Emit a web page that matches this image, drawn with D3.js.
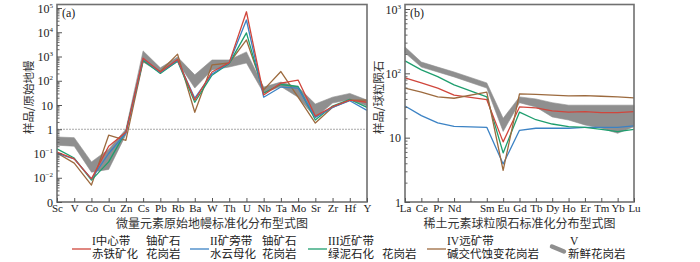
<!DOCTYPE html>
<html>
<head>
<meta charset="utf-8">
<script src="https://cdn.jsdelivr.net/npm/d3@7"></script>
<style>
  body { margin: 0; background: #fff; }
  svg text { font-family: "Liberation Serif", "Noto Sans CJK SC", serif; fill: #222; }
  .cjk { font-family: "Noto Sans CJK SC", sans-serif; fill: #333; }
</style>
</head>
<body>
<div id="chart"></div>
<script>
// ---- trace elements, primitive mantle normalised (panel a)
const traceElements = ['Sc','V','Co','Cu','Zn','Cs','Pb','Rb','Ba','W','Th','U','Nb','Ta','Mo','Sr','Zr','Hf','Y'];
const traceZoneI   = [0.115, 0.06, 0.009, 0.2, 0.75, 850, 230, 750, 16, 230, 560, 70000, 26, 80, 107, 3.5, 8.5, 16, 13];
const traceZoneII  = [0.1, 0.06, 0.009, 0.1, 0.7, 800, 220, 700, 19, 190, 540, 32000, 21, 55, 50, 3.1, 8, 15, 6];
const traceZoneIII = [0.155, 0.065, 0.008, 0.045, 0.8, 700, 200, 650, 13, 170, 520, 9400, 31, 70, 58, 2.4, 9, 17, 8];
const traceZoneIV  = [0.105, 0.04, 0.005, 0.57, 0.35, 650, 240, 1250, 5, 450, 540, 4800, 42, 240, 21, 1.8, 8, 16, 16];
const traceFreshLow  = [0.22, 0.2, 0.017, 0.022, 0.6, 600, 210, 600, 50, 280, 370, 540, 31, 58, 21, 3, 12, 17, 9];
const traceFreshHigh = [0.48, 0.45, 0.045, 0.15, 1.0, 1700, 340, 950, 175, 720, 720, 1550, 55, 88, 55, 11, 21, 30, 16];
const traceTicks = [1e-3, 1e-2, 1e-1, 1, 10, 1e2, 1e3, 1e4, 1e5];

// ---- REE, chondrite normalised (panel b); Pm is not analysed
const reeElements = ['La','Ce','Pr','Nd','Pm','Sm','Eu','Gd','Tb','Dy','Ho','Er','Tm','Yb','Lu'];
const reeLabels   = ['La','Ce','Pr','Nd','','Sm','Eu','Gd','Tb','Dy','Ho','Er','Tm','Yb','Lu'];
const reeZoneI   = [85, 71, 59, 46, null, 39, 8.6, 30, 29, 26, 25, 25.4, 24.5, 24.5, 25.4];
const reeZoneII  = [31, 22, 17, 15, null, 14.5, 3.9, 13, 14, 14, 14, 14.5, 14.5, 14.5, 15.2];
const reeZoneIII = [156, 113, 89, 66, null, 43, 5.8, 25, 19, 16.3, 14.8, 14.5, 13.5, 12.4, 13.5];
const reeZoneIV  = [59, 51, 43, 41, null, 51, 3.1, 48, 47, 46, 44.5, 45, 44, 43, 41.5];
const reeFreshLow  = [208, 125, 105, 88, null, 59, 12.5, 35, 30, 21, 18.8, 15.8, 14, 11.7, 14.8];
const reeFreshHigh = [257, 150, 125, 105, null, 71, 20, 43, 40, 35, 32, 32, 32, 32, 32];
const reeTicks = [1, 10, 100, 1000];

const zoneColors = {I: '#d0463c', II: '#3b82c4', III: '#1e9e6e', IV: '#9c6a3e'};
const bandColor = '#8f8f8f';

const svg = d3.select('#chart').append('svg')
    .attr('width', 700)
    .attr('height', 262);

class SpiderPlot {
  constructor(_config, _data) {
    this.config = {
      left: _config.left,
      right: _config.right,
      top: _config.top || 4.5,
      bottom: _config.bottom || 202,
      yTop: _config.yTop,
      domain: _config.domain,
      ticks: _config.ticks,
      tag: _config.tag,
      yTitle: _config.yTitle,
      yTitleX: _config.yTitleX,
      xTitle: _config.xTitle,
      labelFmt: _config.labelFmt,
      refLine: _config.refLine || null
    };
    this.data = _data;
    this.initVis();
  }

  initVis() {
    let vis = this;
    const c = vis.config;

    vis.x = d3.scalePoint().domain(vis.data.categories).range([c.left, c.right]);
    vis.y = d3.scaleLog().domain(c.domain).range([c.bottom, c.yTop]);

    vis.g = svg.append('g');

    // fresh granite field
    const bandPts = vis.data.categories.map((el, i) => ({el, lo: vis.data.low[i], hi: vis.data.high[i]}))
        .filter(d => d.lo != null);
    vis.g.append('path')
        .datum(bandPts)
        .attr('fill', bandColor)
        .attr('stroke', bandColor)
        .attr('stroke-width', 0.6)
        .attr('d', d3.area().x(d => vis.x(d.el)).y0(d => vis.y(d.lo)).y1(d => vis.y(d.hi)));

    if (c.refLine) {
      vis.g.append('line')
          .attr('x1', c.left).attr('x2', c.right)
          .attr('y1', vis.y(c.refLine)).attr('y2', vis.y(c.refLine))
          .attr('stroke', '#a8a8a8')
          .attr('stroke-width', 1)
          .attr('stroke-dasharray', '2,1');
    }

    const line = d3.line().x(d => vis.x(d.el)).y(d => vis.y(d.v));
    vis.g.selectAll('.zone')
        .data(vis.data.series)
      .join('path')
        .attr('class', 'zone')
        .attr('fill', 'none')
        .attr('stroke', d => zoneColors[d.key])
        .attr('stroke-width', 1.3)
        .attr('stroke-linejoin', 'round')
        .attr('d', d => line(vis.data.categories.map((el, i) => ({el, v: d.values[i]})).filter(p => p.v != null)));

    // frame
    vis.g.append('rect')
        .attr('x', c.left).attr('y', c.top)
        .attr('width', c.right - c.left).attr('height', c.bottom - c.top)
        .attr('fill', 'none')
        .attr('stroke', '#707070')
        .attr('stroke-width', 1.6);

    // y axis, ticks pointing inward
    const minor = [];
    for (let e = Math.log10(c.domain[0]); e < Math.log10(c.domain[1]); e++) {
      for (let m = 2; m <= 9; m++) minor.push(m * Math.pow(10, e));
    }
    vis.g.append('g')
        .attr('transform', `translate(${c.left},0)`)
        .call(d3.axisLeft(vis.y).tickValues(minor).tickSize(-2.5).tickFormat(() => ''))
        .call(g => g.select('.domain').remove())
        .call(g => g.selectAll('line').attr('stroke', '#666'));

    const yAxisG = vis.g.append('g')
        .attr('transform', `translate(${c.left},0)`)
        .call(d3.axisLeft(vis.y).tickValues(c.ticks).tickSize(-5).tickFormat(() => ''))
        .call(g => g.select('.domain').remove())
        .call(g => g.selectAll('line').attr('stroke', '#555'));

    yAxisG.selectAll('.tick text').remove();
    yAxisG.selectAll('.tick').append('text')
        .attr('x', -4)
        .attr('dy', '0.35em')
        .attr('text-anchor', 'end')
        .attr('font-size', 12)
        .each(function(d) {
          const lab = c.labelFmt(d);
          const t = d3.select(this);
          t.append('tspan').text(lab.base);
          if (lab.exp) {
            t.append('tspan').attr('dy', -5).attr('font-size', 7).text(lab.exp);
          }
        });

    // x axis
    vis.g.append('g')
        .attr('transform', `translate(0,${c.bottom})`)
        .call(d3.axisBottom(vis.x).tickSize(-4).tickPadding(2).tickFormat((d, i) => vis.data.labels[i]))
        .call(g => g.select('.domain').remove())
        .call(g => g.selectAll('line').attr('stroke', '#555'))
        .call(g => g.selectAll('text').attr('font-size', 11).attr('fill', '#222'));

    vis.g.append('text')
        .attr('x', c.left + 5).attr('y', 17)
        .attr('font-size', 12)
        .text(c.tag);

    vis.g.append('text')
        .attr('class', 'cjk')
        .attr('transform', `translate(${c.yTitleX},${(c.top + c.bottom) / 2 - 6}) rotate(-90)`)
        .attr('text-anchor', 'middle')
        .attr('font-size', 11.5)
        .text(c.yTitle);

    vis.g.append('text')
        .attr('class', 'cjk')
        .attr('x', c.xTitleX || (c.left + c.right) / 2)
        .attr('y', 228)
        .attr('text-anchor', 'middle')
        .attr('font-size', 12)
        .text(c.xTitle);
  }
}

const sup = s => s.replace('-', '\u2212');

new SpiderPlot({
  left: 57, right: 367, yTop: 8,
  domain: [1e-3, 1e5], ticks: traceTicks,
  tag: '(a)', yTitle: '样品/原始地幔', yTitleX: 33,
  xTitle: '微量元素原始地幔标准化分布型式图',
  refLine: 1,
  labelFmt: d => {
    const e = Math.round(Math.log10(d));
    if (e === -3) return {base: '0'};
    if (e === 0) return {base: '1'};
    if (e === 1) return {base: '10'};
    return {base: '10', exp: sup(String(e))};
  }
}, {
  categories: traceElements, labels: traceElements,
  low: traceFreshLow, high: traceFreshHigh,
  series: [
    {key: 'IV', values: traceZoneIV},
    {key: 'III', values: traceZoneIII},
    {key: 'II', values: traceZoneII},
    {key: 'I', values: traceZoneI}
  ]
});

new SpiderPlot({
  left: 405, right: 634, yTop: 9,
  domain: [1, 1000], ticks: reeTicks,
  tag: '(b)', yTitle: '样品/球粒陨石', yTitleX: 383,
  xTitle: '稀土元素球粒陨石标准化分布型式图',
  labelFmt: d => {
    const e = Math.round(Math.log10(d));
    if (e === 0) return {base: '1'};
    if (e === 1) return {base: '10'};
    return {base: '10', exp: String(e)};
  }
}, {
  categories: reeElements, labels: reeLabels,
  low: reeFreshLow, high: reeFreshHigh,
  series: [
    {key: 'II', values: reeZoneII},
    {key: 'III', values: reeZoneIII},
    {key: 'I', values: reeZoneI},
    {key: 'IV', values: reeZoneIV}
  ]
});

// ---- legend
const legendItems = [
  {key: 'I', x: 72, l1: ['I中心带', '铀矿石'], l2: ['赤铁矿化', '花岗岩'], gap: 54},
  {key: 'II', x: 190, l1: ['II矿旁带', '铀矿石'], l2: ['水云母化', '花岗岩'], gap: 52},
  {key: 'III', x: 308, l1: ['III近矿带'], l2: ['绿泥石化', '花岗岩'], gap: 54},
  {key: 'IV', x: 427, l1: ['IV远矿带'], l2: ['碱交代蚀变花岗岩'], gap: 0},
  {key: 'V', x: 550, l1: ['V'], l2: ['新鲜花岗岩'], gap: 0}
];

const legend = svg.append('g').attr('class', 'legend');
legendItems.forEach(it => {
  const g = legend.append('g');
  let tx;
  if (it.key === 'V') {
    g.append('line')
        .attr('x1', it.x + 2).attr('y1', 246.5).attr('x2', it.x + 14).attr('y2', 251.5)
        .attr('stroke', bandColor).attr('stroke-width', 4.5).attr('stroke-linecap', 'round');
    tx = it.x + 18;
  } else {
    g.append('line')
        .attr('x1', it.x).attr('x2', it.x + 19).attr('y1', 249).attr('y2', 249)
        .attr('stroke', zoneColors[it.key]).attr('stroke-width', 1.3);
    tx = it.x + 20;
  }
  [[it.l1, 245], [it.l2, 258]].forEach(([parts, yy]) => {
    parts.forEach((p, j) => {
      g.append('text')
          .attr('x', tx + (it.key === 'V' && yy === 245 ? 2 : 0) + j * it.gap)
          .attr('y', yy)
          .attr('font-size', 11.5)
          .attr('fill', '#333')
          .text(p);
    });
  });
});
</script>
</body>
</html>
